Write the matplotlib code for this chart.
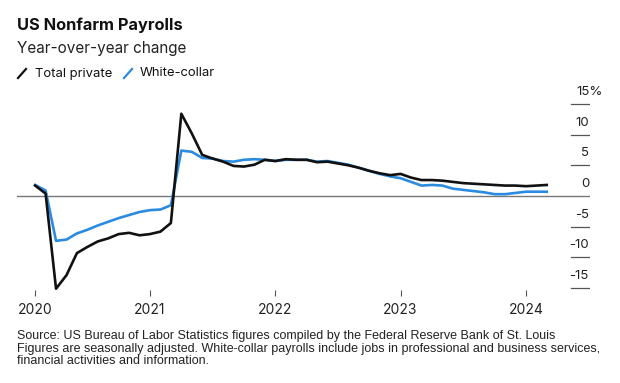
import matplotlib
matplotlib.use("Agg")
import matplotlib.pyplot as plt
from matplotlib.lines import Line2D
import matplotlib.transforms as mtransforms

# ---- data (monthly, Feb 2020 - Mar 2024), YoY % change ----
start_year, start_month = 2020, 2
total_private = [1.7, 0.4, -15.1, -12.9, -9.3, -8.3, -7.4, -6.9, -6.2, -6.0, -6.4,
                 -6.2, -5.8, -4.4, 13.4, 10.2, 6.7, 6.1, 5.6, 4.9, 4.8, 5.1, 5.9,
                 5.7, 6.0, 5.9, 5.9, 5.5, 5.6, 5.3, 5.0, 4.6, 4.1, 3.7, 3.4,
                 3.6, 3.0, 2.6, 2.6, 2.5, 2.3, 2.1, 2.0, 1.9, 1.8, 1.7, 1.7,
                 1.6, 1.7, 1.8]
white_collar = [1.8, 0.9, -7.3, -7.1, -6.1, -5.5, -4.8, -4.2, -3.6, -3.1, -2.6,
                -2.3, -2.2, -1.5, 7.4, 7.2, 6.2, 6.1, 5.7, 5.6, 5.9, 6.0, 5.9,
                5.7, 5.9, 5.9, 5.9, 5.6, 5.7, 5.4, 5.1, 4.6, 4.1, 3.6, 3.2,
                2.9, 2.3, 1.7, 1.8, 1.7, 1.2, 1.0, 0.8, 0.6, 0.3, 0.3, 0.5,
                0.7, 0.7, 0.7]
year_ticks = [2020 + (start_month - 1) / 12, 2021, 2022, 2023, 2024]
year_labels = ["2020", "2021", "2022", "2023", "2024"]
y_ticks = [15, 10, 5, 0, -5, -10, -15]
y_labels = ["15%", "10", "5", "0", "-5", "-10", "-15"]

title = "US Nonfarm Payrolls"
subtitle = "Year-over-year change"
legend_names = ["Total private", "White-collar"]
source = ("Source: US Bureau of Labor Statistics figures compiled by the Federal Reserve Bank of St. Louis\n"
          "Figures are seasonally adjusted. White-collar payrolls include jobs in professional and business services,\n"
          "financial activities and information.")

# month positions as fractional years
t = [start_year + (start_month - 1 + i) / 12 for i in range(len(total_private))]

BLACK = "#111111"
BLUE = "#2b8be0"
W, H = 620, 383

fig = plt.figure(figsize=(6.2, 3.83), dpi=100)
fig.patch.set_facecolor("white")

def fx(px):
    return px / W

def fy(py):
    return 1 - py / H

ax_left, ax_right, ax_top, ax_bot = 17, 590, 100, 290
ax = fig.add_axes([fx(ax_left), fy(ax_bot), fx(ax_right - ax_left), (ax_bot - ax_top) / H])
ax.set_xlim(2019.9385, 2024.5116)
ax.set_ylim(-15.31, 15.64)
for s in ax.spines.values():
    s.set_visible(False)
ax.set_yticks([])

# zero line and y tick dashes
ax.axhline(0, color="#777777", lw=1.0, zorder=1)
dash_x0 = (571 - ax_left) / (ax_right - ax_left)
dash_x1 = (589 - ax_left) / (ax_right - ax_left)
for v in y_ticks:
    if v != 0:
        ax.axhline(v, xmin=dash_x0, xmax=dash_x1, color="#555555", lw=0.9)

lab_tr = mtransforms.blended_transform_factory(ax.transAxes, ax.transData)
lab_tr = lab_tr + mtransforms.ScaledTranslation(0, 12 / 100, fig.dpi_scale_trans)
pct_x = (576 - ax_left) / (ax_right - ax_left)
for v, lab in zip(y_ticks, y_labels):
    if lab.endswith("%"):
        ax.text(pct_x, v, lab, transform=lab_tr, ha="left", va="center",
                fontsize=9.5, family="Inter", color="#222222")
    else:
        ax.text(dash_x1, v, lab, transform=lab_tr, ha="right", va="center",
                fontsize=9.5, family="Inter", color="#222222")

# lines
ax.plot(t, white_collar, color=BLUE, lw=1.9, zorder=3, solid_joinstyle="round")
ax.plot(t, total_private, color=BLACK, lw=1.9, zorder=4, solid_joinstyle="round")

# x ticks
ax.set_xticks(year_ticks)
ax.set_xticklabels(year_labels, family="Inter", fontsize=10, color="#222222")
ax.tick_params(axis="x", length=4, width=0.8, color="#555555", pad=5)

# titles
fig.text(fx(17), fy(25.5), title, fontsize=11.8, fontweight="bold", family="Inter",
         color="#111111", va="center", ha="left")
fig.text(fx(17), fy(49), subtitle, fontsize=11, family="Inter",
         color="#222222", va="center", ha="left")

# legend
fig.add_artist(Line2D([fx(18), fx(26)], [fy(78), fy(69)], color=BLACK, lw=1.6,
                      transform=fig.transFigure))
fig.text(fx(35), fy(73.5), legend_names[0], fontsize=9.4, family="Inter",
         color="#111111", va="center", ha="left")
fig.add_artist(Line2D([fx(124), fx(132)], [fy(78), fy(69)], color=BLUE, lw=1.6,
                      transform=fig.transFigure))
fig.text(fx(140), fy(73.5), legend_names[1], fontsize=9.4, family="Inter",
         color="#111111", va="center", ha="left")

# source
fig.text(fx(17), fy(330), source, fontsize=9.0, family="Liberation Sans",
         color="#222222", va="top", ha="left", linespacing=1.08)

fig.savefig("out.png", dpi=100)
